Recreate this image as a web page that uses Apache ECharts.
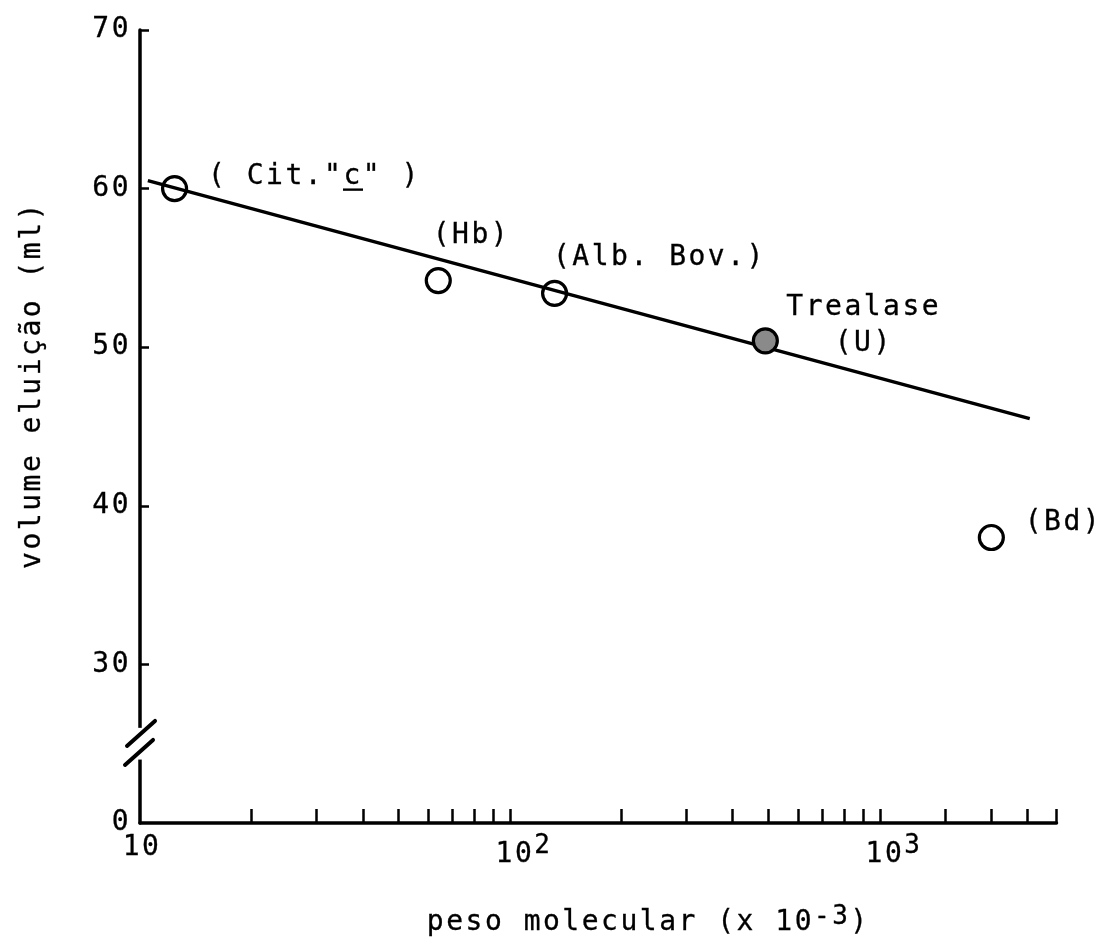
<!DOCTYPE html>
<html>
<head>
<meta charset="utf-8">
<title>volume eluição × peso molecular</title>
<script src="https://cdn.jsdelivr.net/npm/echarts@6/dist/echarts.min.js"></script>
<style>
  html, body { margin: 0; padding: 0; background: #ffffff; }
  #chart { width: 1101px; height: 946px; }
</style>
</head>
<body>
<div id="chart"></div>
<script>
// Wide, typewriter-like letter pitch for every text drawn on the canvas.
// Applied to measuring as well as drawing so ECharts lays labels out consistently.
const LETTER_SPACING = '2.5px';
['fillText', 'strokeText', 'measureText'].forEach(function (fn) {
  const orig = CanvasRenderingContext2D.prototype[fn];
  CanvasRenderingContext2D.prototype[fn] = function () {
    this.letterSpacing = LETTER_SPACING;
    return orig.apply(this, arguments);
  };
});

// ---- data ----------------------------------------------------------------
// calibration proteins: molecular weight (x 10^-3) and elution volume (ml)
const proteinas     = ['( Cit."c" )', '(Hb)', '(Alb. Bov.)', 'Trealase\n(U)', '(Bd)'];
const pesoMolecular = [12.4, 64, 132, 490, 2000];
const volumeEluicao = [60.0, 54.2, 53.4, 50.4, 38.0];

// calibration line (end points)
const retaPeso   = [10.5, 2540];
const retaVolume = [60.5, 45.5];

// axis ticks
const ticksY   = [30, 40, 50, 60, 70];
const baseY    = 20;          // bottom of the broken axis, labelled "0"
const rotuloBaseY = '0';
const ticksX   = [20, 30, 40, 50, 60, 70, 80, 90, 100,
                  200, 300, 400, 500, 600, 700, 800, 900, 1000,
                  1500, 2000, 2500, 3000];
const rotulosX = [10, 100, 1000];
const expoentes = { 10: '', 100: '2', 1000: '3' };

// ---- styling ---------------------------------------------------------------
const FONT = '"DejaVu Sans Mono", monospace';
const FS = 28;
const INK = '#000000';
// a thin outline in the ink colour gives the heavier typewriter stroke
const TINTA = { color: INK, textBorderColor: INK, textBorderWidth: 0.3 };

function estilo(extra) {
  return Object.assign({ fontFamily: FONT, fontSize: FS }, TINTA, extra || {});
}

// small bitmap used as the background of an underlined letter
const traco = document.createElement('canvas');
traco.width = 10; traco.height = 40;
(function () {
  const g = traco.getContext('2d');
  g.fillStyle = INK;
  g.fillRect(0, 35, 10, 3);
})();

// label placement for each protein (offset from the marker centre)
const posicaoRotulo = [
  { dx: 35,  dy: -10, align: 'left' },
  { dx: -4,  dy: -43, align: 'left' },
  { dx: 0,   dy: -34, align: 'left' },
  { dx: 100, dy: -14, align: 'center' },
  { dx: 35,  dy: -13, align: 'left' }
];
const SYMBOL = 24;

// the "c" of cytochrome c is typed underlined
function rotuloProteina(txt) {
  return txt.replace('"c"', '"{u|c}"');
}

const pontos = proteinas.map(function (nome, i) {
  const p = posicaoRotulo[i];
  const item = {
    name: nome,
    value: [pesoMolecular[i], volumeEluicao[i]],
    label: estilo({
      show: true,
      formatter: rotuloProteina(nome),
      position: [SYMBOL / 2 + p.dx, SYMBOL / 2 + p.dy],
      align: p.align,
      verticalAlign: 'middle',
      lineHeight: 36,
      rich: {
        u: estilo({ backgroundColor: { image: traco } })
      }
    })
  };
  if (nome.indexOf('Trealase') === 0) {
    item.itemStyle = { color: '#8a8a8a' };
  }
  return item;
});

const reta = retaPeso.map(function (x, i) { return [x, retaVolume[i]]; });

const chart = echarts.init(document.getElementById('chart'), null, { renderer: 'canvas' });

chart.setOption({
  animation: false,
  backgroundColor: '#ffffff',
  textStyle: { fontFamily: FONT, color: INK },
  grid: { left: 140, right: 44.5, top: 30, bottom: 123, containLabel: false },
  xAxis: {
    type: 'log',
    logBase: 10,
    min: 10,
    max: 3000,
    name: '{b|peso molecular (x 10}{s|-3}{b|)}',
    nameLocation: 'middle',
    nameGap: 80,
    nameTextStyle: estilo({
      padding: [0, 0, 0, 100],
      rich: {
        b: estilo({ lineHeight: 35, verticalAlign: 'bottom' }),
        s: estilo({ fontSize: 26, lineHeight: 35, verticalAlign: 'top' })
      }
    }),
    axisLine: { show: true, lineStyle: { color: INK, width: 3.5 } },
    axisTick: {
      show: true,
      inside: true,
      length: 14,
      customValues: ticksX,
      lineStyle: { color: INK, width: 2.5 }
    },
    minorTick: { show: false },
    splitLine: { show: false },
    axisLabel: {
      show: true,
      customValues: rotulosX,
      margin: 9,
      formatter: function (v) {
        const e = expoentes[Math.round(v)];
        return e ? '{b|10}{s|' + e + '}' : '{p|10}';
      },
      rich: {
        p: estilo({ lineHeight: 28, verticalAlign: 'top', padding: [0, 0, 0, 4] }),
        b: estilo({ lineHeight: 38, verticalAlign: 'bottom', padding: [0, 0, 0, 28] }),
        s: estilo({ fontSize: 26, lineHeight: 38, verticalAlign: 'top' })
      }
    }
  },
  yAxis: {
    type: 'value',
    min: baseY,
    max: 70,
    interval: 10,
    name: 'volume eluição (ml)',
    nameLocation: 'middle',
    nameGap: 92,
    nameTextStyle: estilo({ padding: [0, 0, 0, 83] }),
    axisLine: { show: true, lineStyle: { color: INK, width: 3.5 } },
    axisTick: {
      show: true,
      inside: true,
      length: 9,
      customValues: ticksY,
      lineStyle: { color: INK, width: 2.5 }
    },
    splitLine: { show: false },
    axisLabel: estilo({
      margin: 9,
      padding: [0, 0, 6, 0],
      formatter: function (v) { return v === baseY ? rotuloBaseY : String(v); }
    })
  },
  series: [
    {
      name: 'reta',
      type: 'line',
      data: reta,
      showSymbol: false,
      symbol: 'none',
      lineStyle: { color: INK, width: 3.5, opacity: 1 },
      z: 2,
      silent: true
    },
    {
      name: 'proteínas',
      type: 'scatter',
      data: pontos,
      symbol: 'circle',
      symbolSize: SYMBOL,
      itemStyle: { color: 'rgba(255,255,255,0)', borderColor: INK, borderWidth: 3.2, opacity: 1 },
      label: estilo(),
      z: 3
    }
  ]
});

// Break marks on the vertical axis between 0 and 30
function desenhaQuebra() {
  const topo = chart.convertToPixel({ gridIndex: 0 }, [10, 26]);
  const fundo = chart.convertToPixel({ gridIndex: 0 }, [10, 24]);
  const barra1 = chart.convertToPixel({ gridIndex: 0 }, [10, 25.65]);
  const barra2 = chart.convertToPixel({ gridIndex: 0 }, [10, 24.45]);
  const x = topo[0];
  const barra = function (c) {
    return {
      type: 'line',
      z: 101,
      shape: { x1: c[0] - 14, y1: c[1] + 12.5, x2: c[0] + 14, y2: c[1] - 12.5 },
      style: { stroke: INK, lineWidth: 4, lineCap: 'round' }
    };
  };
  chart.setOption({
    graphic: [
      {
        type: 'rect',
        z: 100,
        shape: { x: x - 5, y: topo[1], width: 10, height: fundo[1] - topo[1] },
        style: { fill: '#ffffff' }
      },
      barra([x + 1, barra1[1]]),
      barra([x - 1, barra2[1]])
    ]
  });
}
desenhaQuebra();
</script>
</body>
</html>
